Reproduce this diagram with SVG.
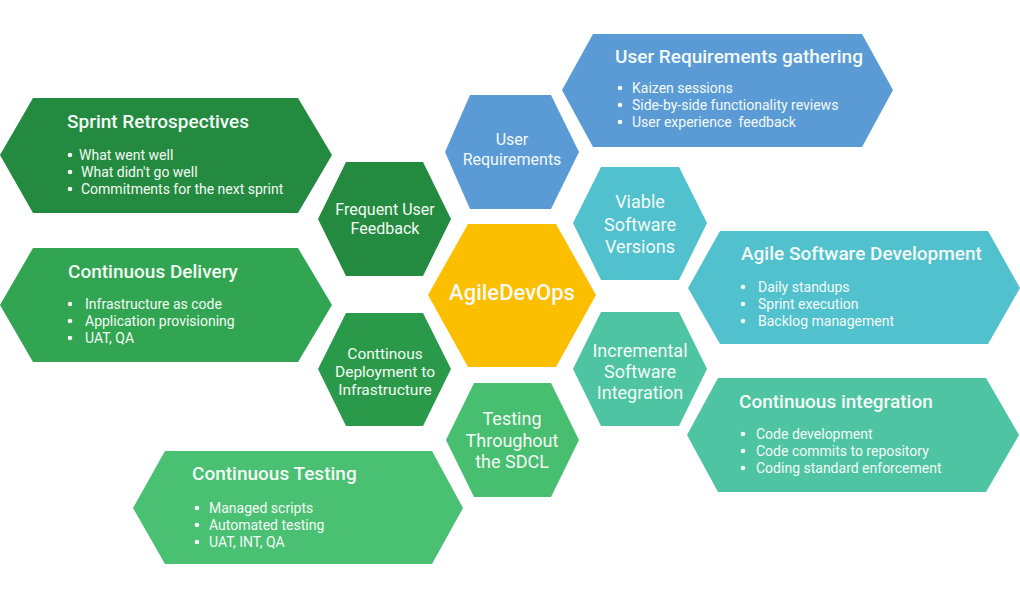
<svg xmlns="http://www.w3.org/2000/svg" width="1020" height="600" viewBox="0 0 1020 600">
<style>
text{font-family:Roboto,"Liberation Sans",Arial,sans-serif;fill:#F3FAF5}
.t{font-size:19px;font-weight:500}
.b{font-size:14px}
.s{font-size:16px;text-anchor:middle}
.m{font-size:18px;text-anchor:middle}
.c{font-size:22px;font-weight:500;text-anchor:middle}
</style>
<rect width="1020" height="600" fill="#FFFFFF"/>
<g id="connectors"></g>
<g id="sprint-retrospectives">
<polygon points="0,155 33,98 298,98 332,155 298,213 33,213" fill="#248A40"/>
<text class="t" x="67" y="128">Sprint Retrospectives</text>
<circle cx="70" cy="155" r="2.3" fill="#F3FAF5"/><text class="b" x="79" y="160">What went well</text>
<circle cx="70" cy="172" r="2.3" fill="#F3FAF5"/><text class="b" x="81" y="177">What didn't go well</text>
<circle cx="70" cy="189" r="2.3" fill="#F3FAF5"/><text class="b" x="81" y="194">Commitments for the next sprint</text>
</g>
<g id="continuous-delivery">
<polygon points="0,305 33,248 298,248 332,305 298,362 33,362" fill="#31A552"/>
<text class="t" x="68" y="278">Continuous Delivery</text>
<circle cx="70" cy="304" r="2.3" fill="#F3FAF5"/><text class="b" x="85" y="309">Infrastructure as code</text>
<circle cx="70" cy="321" r="2.3" fill="#F3FAF5"/><text class="b" x="85" y="326">Application provisioning</text>
<circle cx="70" cy="338" r="2.3" fill="#F3FAF5"/><text class="b" x="85" y="343">UAT, QA</text>
</g>
<g id="continuous-testing">
<polygon points="133,508 165,451 432,451 463,508 432,564 165,564" fill="#4AC073"/>
<text class="t" x="192" y="480">Continuous Testing</text>
<circle cx="197" cy="508" r="2.3" fill="#F3FAF5"/><text class="b" x="209" y="513">Managed scripts</text>
<circle cx="197" cy="525" r="2.3" fill="#F3FAF5"/><text class="b" x="209" y="530">Automated testing</text>
<circle cx="197" cy="542" r="2.3" fill="#F3FAF5"/><text class="b" x="209" y="547">UAT, INT, QA</text>
</g>
<g id="user-requirements-gathering">
<polygon points="562,90 593,34 862,34 893,90 862,147 593,147" fill="#5B9BD5"/>
<text class="t" x="615" y="63">User Requirements gathering</text>
<circle cx="620" cy="88" r="2.3" fill="#F3FAF5"/><text class="b" x="632" y="93">Kaizen sessions</text>
<circle cx="620" cy="105" r="2.3" fill="#F3FAF5"/><text class="b" x="632" y="110">Side-by-side functionality reviews</text>
<circle cx="620" cy="122" r="2.3" fill="#F3FAF5"/><text class="b" x="632" y="127">User experience&#160; feedback</text>
</g>
<g id="agile-software-development">
<polygon points="688,288 720,231 988,231 1020,288 988,344 720,344" fill="#52C1CE"/>
<text class="t" x="741" y="260">Agile Software Development</text>
<circle cx="743" cy="287" r="2.3" fill="#F3FAF5"/><text class="b" x="758" y="292">Daily standups</text>
<circle cx="743" cy="304" r="2.3" fill="#F3FAF5"/><text class="b" x="758" y="309">Sprint execution</text>
<circle cx="743" cy="321" r="2.3" fill="#F3FAF5"/><text class="b" x="758" y="326">Backlog management</text>
</g>
<g id="continuous-integration">
<polygon points="687,435 718,378 986,378 1019,435 986,492 718,492" fill="#4EC4A3"/>
<text class="t" x="739" y="408">Continuous integration</text>
<circle cx="743" cy="434" r="2.3" fill="#F3FAF5"/><text class="b" x="756" y="439">Code development</text>
<circle cx="743" cy="451" r="2.3" fill="#F3FAF5"/><text class="b" x="756" y="456">Code commits to repository</text>
<circle cx="743" cy="468" r="2.3" fill="#F3FAF5"/><text class="b" x="756" y="473">Coding standard enforcement</text>
</g>
<g id="user-requirements">
<polygon points="445,152 470,95 551,95 579,152 551,209 470,209" fill="#5B9BD5"/>
<text class="s" x="512" y="145">User</text>
<text class="s" x="512" y="165">Requirements</text>
</g>
<g id="frequent-user-feedback">
<polygon points="318,219 346,162 423,162 451,219 423,276 346,276" fill="#248A40"/>
<text class="s" x="385" y="215">Frequent User</text>
<text class="s" x="385" y="234">Feedback</text>
</g>
<g id="viable-software-versions">
<polygon points="573,223 601,167 679,167 707,223 679,280 601,280" fill="#52C1CE"/>
<text class="m" x="640" y="208">Viable</text>
<text class="m" x="640" y="231">Software</text>
<text class="m" x="640" y="253">Versions</text>
</g>
<g id="agiledevops">
<polygon points="428,295 468,224 556,224 596,295 556,367 468,367" fill="#FBBF00"/>
<text class="c" x="512" y="300">AgileDevOps</text>
</g>
<g id="continuous-deployment">
<polygon points="318,369 346,313 423,313 451,369 423,426 346,426" fill="#2A9A4A"/>
<text class="s" x="385" y="359" style="font-size:15.5px">Conttinous</text>
<text class="s" x="385" y="377" style="font-size:15.5px">Deployment to</text>
<text class="s" x="385" y="395" style="font-size:15.5px">Infrastructure</text>
</g>
<g id="incremental-software-integration">
<polygon points="573,369 601,312 679,312 707,369 679,426 601,426" fill="#4EC4A3"/>
<text class="m" x="640" y="357">Incremental</text>
<text class="m" x="640" y="378">Software</text>
<text class="m" x="640" y="399">Integration</text>
</g>
<g id="testing-throughout">
<polygon points="446,440 474,383 551,383 579,440 551,497 474,497" fill="#48BE70"/>
<text class="m" x="512" y="425">Testing</text>
<text class="m" x="512" y="447">Throughout</text>
<text class="m" x="512" y="468">the SDCL</text>
</g>
</svg>
